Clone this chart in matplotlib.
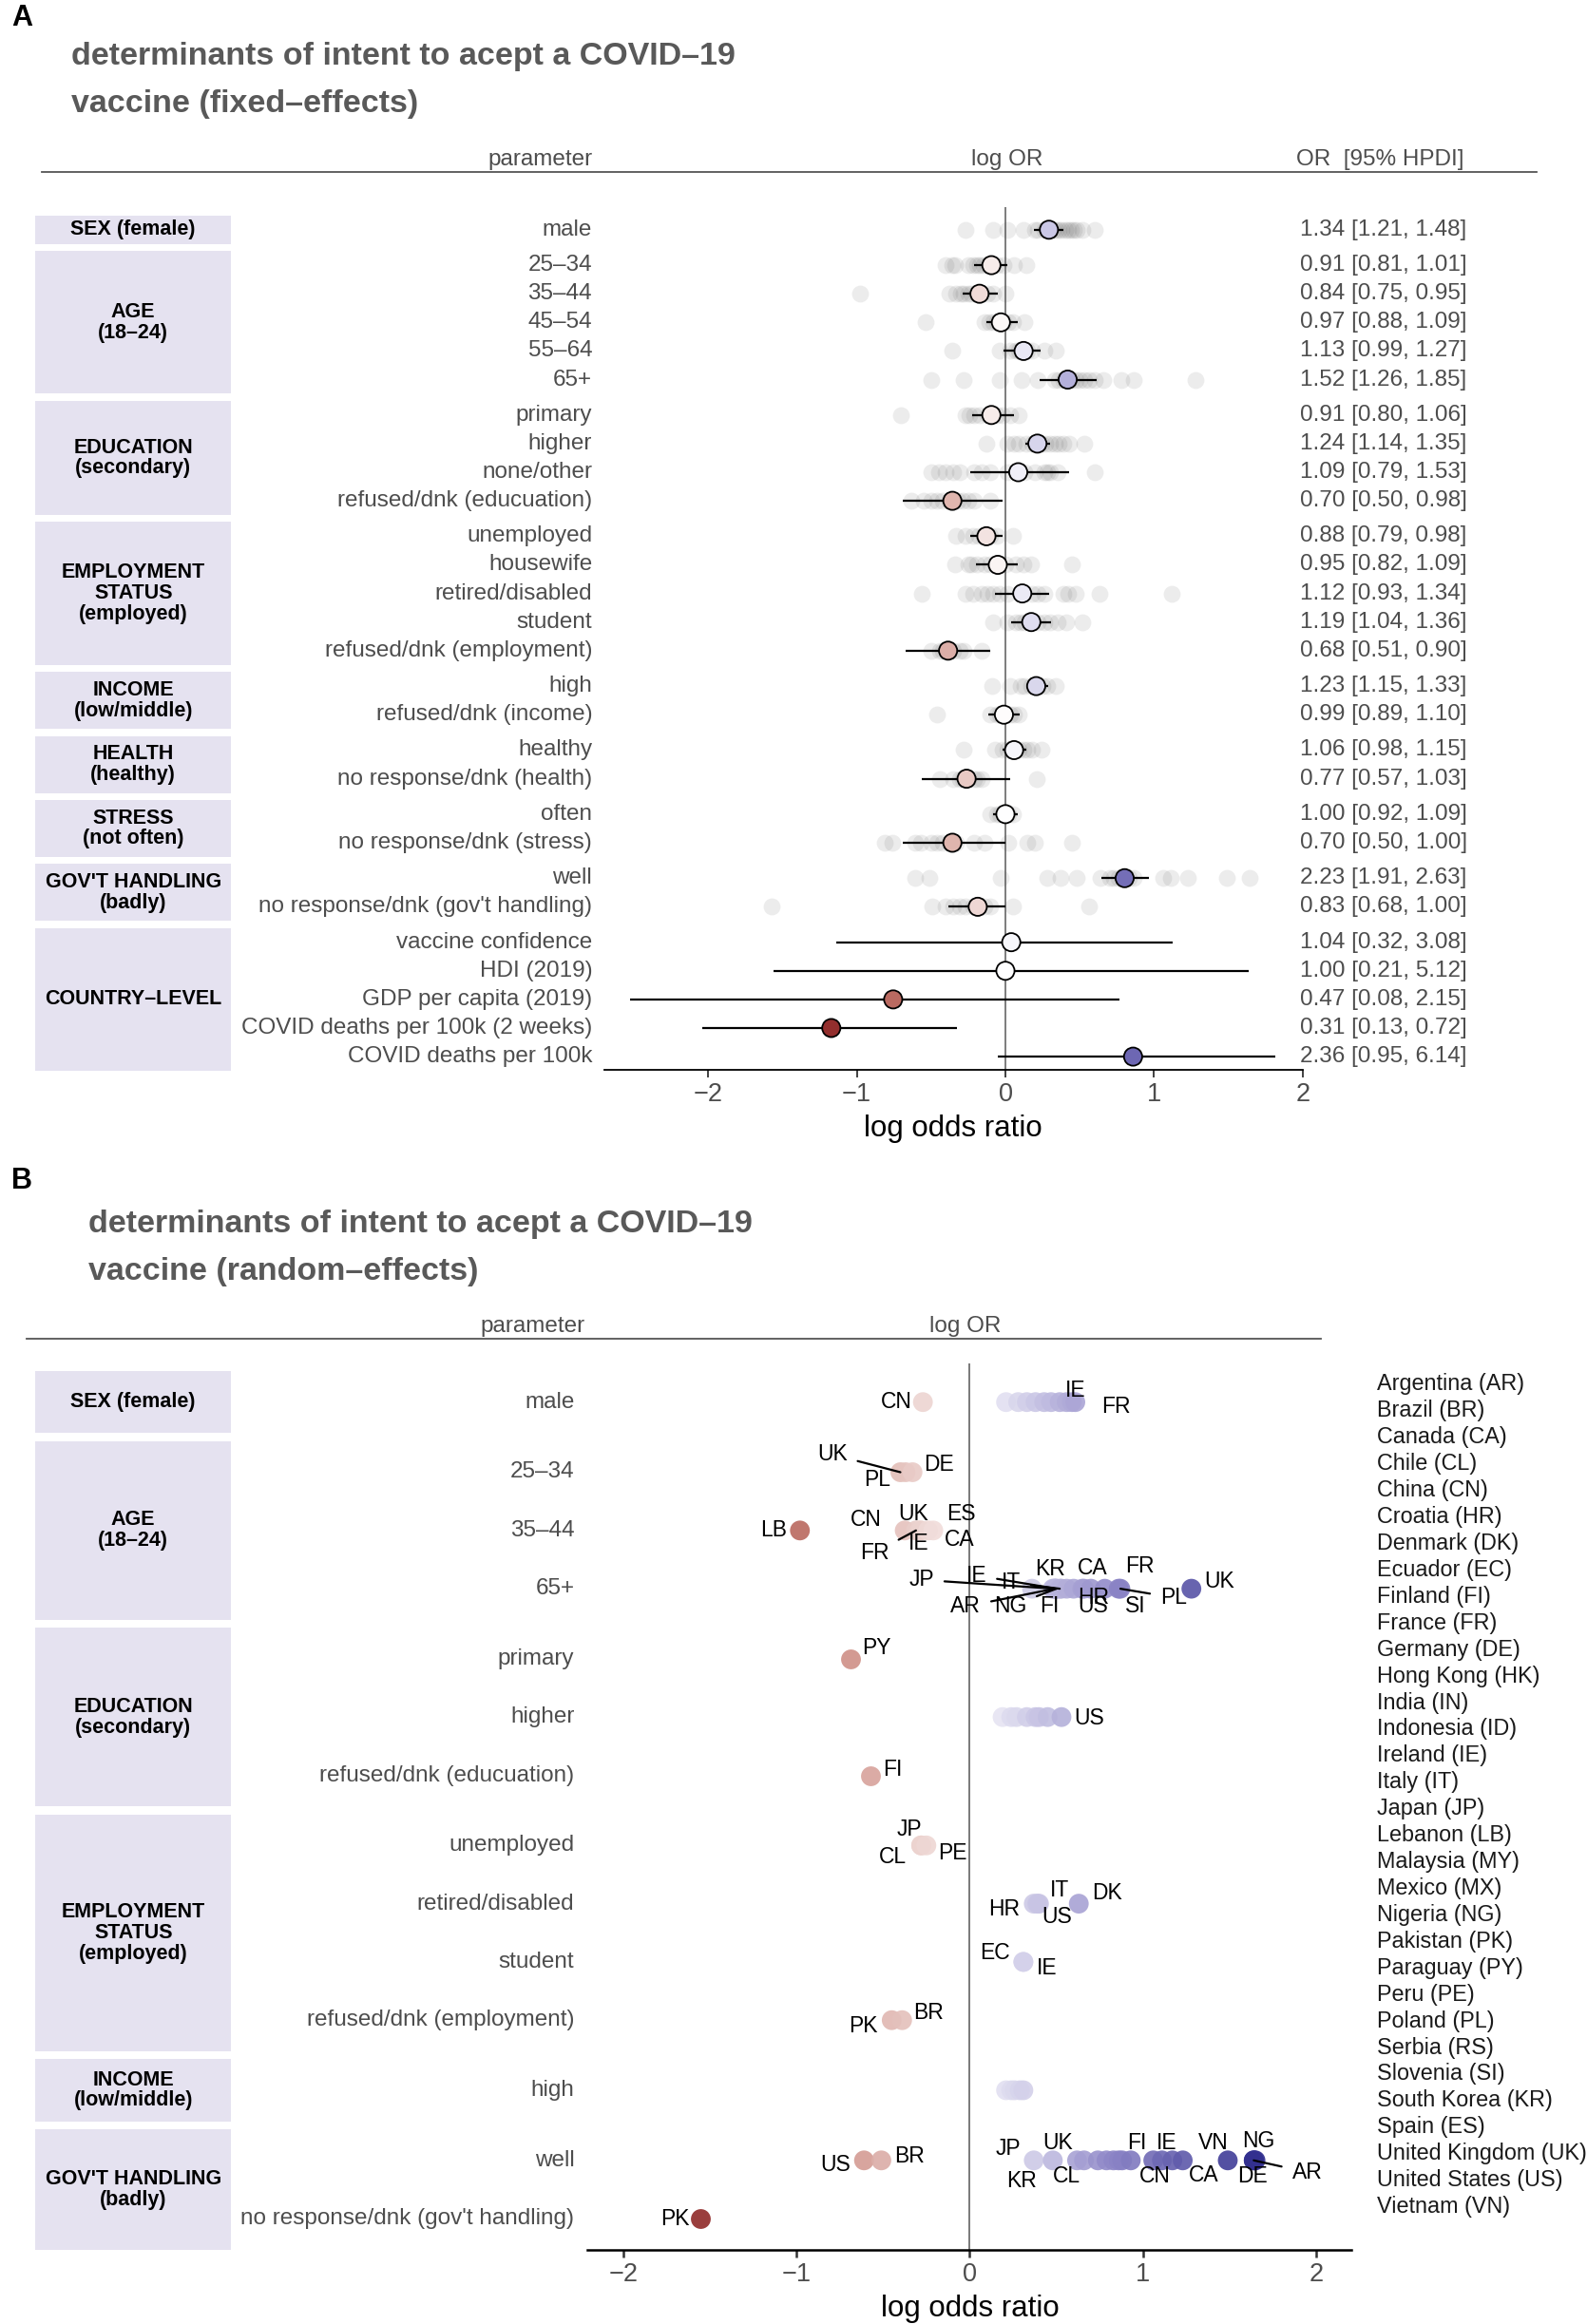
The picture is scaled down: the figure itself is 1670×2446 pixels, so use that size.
"""
Forest plots: determinants of intent to accept a COVID-19 vaccine.
A = fixed effects (with per-country estimates in grey), B = random effects.
"""
import matplotlib
matplotlib.use("Agg")
import matplotlib.pyplot as plt
import matplotlib.transforms as mtransforms
from matplotlib.colors import LinearSegmentedColormap, Normalize
from matplotlib.patches import Rectangle
import numpy as np

plt.rcParams["font.family"] = ["Liberation Sans", "DejaVu Sans"]

# ── Panel A data ─────────────────────────────────────────────────────
A_groups = ["SEX (female)", "AGE\n(18–24)", "EDUCATION\n(secondary)",
            "EMPLOYMENT\nSTATUS\n(employed)", "INCOME\n(low/middle)",
            "HEALTH\n(healthy)", "STRESS\n(not often)",
            "GOV'T HANDLING\n(badly)", "COUNTRY–LEVEL"]
A_group_sizes = [1, 5, 4, 5, 2, 2, 2, 2, 5]
A_params = ["male", "25–34", "35–44", "45–54", "55–64", "65+",
            "primary", "higher", "none/other", "refused/dnk (educuation)",
            "unemployed", "housewife", "retired/disabled", "student",
            "refused/dnk (employment)", "high", "refused/dnk (income)",
            "healthy", "no response/dnk (health)", "often",
            "no response/dnk (stress)", "well", "no response/dnk (gov't handling)",
            "vaccine confidence", "HDI (2019)", "GDP per capita (2019)",
            "COVID deaths per 100k (2 weeks)", "COVID deaths per 100k"]
A_or = [1.34, 0.91, 0.84, 0.97, 1.13, 1.52, 0.91, 1.24, 1.09, 0.70,
        0.88, 0.95, 1.12, 1.19, 0.68, 1.23, 0.99, 1.06, 0.77, 1.00,
        0.70, 2.23, 0.83, 1.04, 1.00, 0.47, 0.31, 2.36]
A_lo = [1.21, 0.81, 0.75, 0.88, 0.99, 1.26, 0.80, 1.14, 0.79, 0.50,
        0.79, 0.82, 0.93, 1.04, 0.51, 1.15, 0.89, 0.98, 0.57, 0.92,
        0.50, 1.91, 0.68, 0.32, 0.21, 0.08, 0.13, 0.95]
A_hi = [1.48, 1.01, 0.95, 1.09, 1.27, 1.85, 1.06, 1.35, 1.53, 0.98,
        0.98, 1.09, 1.34, 1.36, 0.90, 1.33, 1.10, 1.15, 1.03, 1.09,
        1.00, 2.63, 1.00, 3.08, 5.12, 2.15, 0.72, 6.14]

# per-country log OR estimates (grey dots), one list per parameter
A_country = [
    [-0.27, -0.08, 0.01, 0.12, 0.20, 0.22, 0.26, 0.28, 0.30, 0.32, 0.34, 0.36, 0.38, 0.40, 0.42, 0.44, 0.46, 0.48, 0.52, 0.60],
    [-0.40, -0.36, -0.34, -0.25, -0.22, -0.19, -0.17, -0.15, -0.12, -0.10, -0.06, -0.01, 0.06, 0.14],
    [-0.98, -0.38, -0.33, -0.30, -0.28, -0.25, -0.23, -0.20, -0.18, -0.16, -0.12, -0.08, 0.00],
    [-0.54, -0.14, -0.11, -0.08, -0.06, -0.03, -0.01, 0.02, 0.05, 0.13],
    [-0.36, -0.04, 0.03, 0.07, 0.09, 0.12, 0.15, 0.18, 0.26, 0.34],
    [-0.50, -0.28, -0.04, 0.11, 0.22, 0.33, 0.36, 0.39, 0.41, 0.43, 0.45, 0.47, 0.50, 0.53, 0.56, 0.60, 0.66, 0.78, 0.86, 1.28],
    [-0.70, -0.27, -0.24, -0.21, -0.17, -0.12, -0.10, -0.06, -0.02, 0.03, 0.09],
    [-0.13, 0.01, 0.06, 0.09, 0.14, 0.18, 0.21, 0.24, 0.27, 0.30, 0.33, 0.36, 0.39, 0.43, 0.53],
    [-0.50, -0.45, -0.40, -0.35, -0.31, -0.21, -0.16, -0.10, 0.01, 0.13, 0.20, 0.26, 0.28, 0.30, 0.35, 0.60],
    [-0.63, -0.55, -0.50, -0.46, -0.42, -0.38, -0.35, -0.32, -0.29, -0.25, -0.21, -0.10],
    [-0.33, -0.27, -0.22, -0.18, -0.15, -0.12, -0.10, -0.06, 0.05],
    [-0.34, -0.25, -0.23, -0.19, -0.14, -0.10, -0.06, 0.00, 0.07, 0.12, 0.17, 0.45],
    [-0.56, -0.27, -0.22, -0.16, -0.12, -0.08, -0.04, 0.01, 0.10, 0.18, 0.22, 0.26, 0.39, 0.42, 0.47, 0.63, 1.12],
    [-0.08, 0.01, 0.07, 0.10, 0.13, 0.16, 0.18, 0.22, 0.26, 0.30, 0.35, 0.41, 0.52],
    [-0.50, -0.44, -0.42, -0.38, -0.35, -0.31, -0.28, -0.16],
    [-0.09, 0.03, 0.10, 0.13, 0.17, 0.19, 0.22, 0.25, 0.28, 0.34],
    [-0.46, -0.10, -0.06, -0.04, -0.01, 0.03, 0.06, 0.09],
    [-0.28, -0.07, -0.02, 0.01, 0.04, 0.07, 0.09, 0.12, 0.15, 0.18, 0.24],
    [-0.44, -0.35, -0.31, -0.29, -0.25, -0.21, -0.19, -0.16, 0.21],
    [-0.10, -0.06, -0.04, -0.01, 0.02, 0.05],
    [-0.81, -0.76, -0.61, -0.57, -0.50, -0.46, -0.42, -0.38, -0.33, -0.21, -0.14, 0.02, 0.15, 0.20, 0.45],
    [-0.61, -0.51, -0.03, 0.28, 0.37, 0.48, 0.64, 0.70, 0.73, 0.76, 0.80, 0.83, 0.86, 1.06, 1.11, 1.23, 1.49, 1.64],
    [-1.57, -0.49, -0.40, -0.35, -0.31, -0.27, -0.22, -0.18, -0.14, -0.10, 0.05, 0.56],
    [], [], [], [], [],
]

# ── Panel B data ─────────────────────────────────────────────────────
B_groups = ["SEX (female)", "AGE\n(18–24)", "EDUCATION\n(secondary)",
            "EMPLOYMENT\nSTATUS\n(employed)", "INCOME\n(low/middle)",
            "GOV'T HANDLING\n(badly)"]
B_group_sizes = [1, 3, 3, 4, 1, 2]
B_params = ["male", "25–34", "35–44", "65+", "primary", "higher",
            "refused/dnk (educuation)", "unemployed", "retired/disabled",
            "student", "refused/dnk (employment)", "high", "well",
            "no response/dnk (gov't handling)"]
# country-specific log OR (only the ones that stand out get a code)
B_points = [
    [("CN", -0.27), ("", 0.21), ("", 0.28), ("", 0.33), ("", 0.38), ("", 0.43),
     ("", 0.47), ("", 0.52), ("", 0.56), ("FR", 0.59), ("IE", 0.61)],
    [("UK", -0.40), ("PL", -0.37), ("DE", -0.33)],
    [("LB", -0.98), ("CN", -0.375), ("FR", -0.31), ("UK", -0.29), ("IE", -0.28),
     ("ES", -0.24), ("CA", -0.21)],
    [("", 0.36), ("JP", 0.49), ("AR", 0.49), ("FI", 0.48), ("IE", 0.50), ("NG", 0.50),
     ("IT", 0.52), ("", 0.53), ("KR", 0.56), ("", 0.60), ("US", 0.65), ("CA", 0.66),
     ("HR", 0.70), ("SI", 0.78), ("FR", 0.86), ("PL", 0.87), ("UK", 1.28)],
    [("PY", -0.69)],
    [("", 0.19), ("", 0.24), ("", 0.27), ("", 0.33), ("", 0.38), ("", 0.40),
     ("", 0.45), ("US", 0.53)],
    [("FI", -0.575)],
    [("JP", -0.28), ("CL", -0.28), ("PE", -0.25)],
    [("HR", 0.37), ("US", 0.39), ("IT", 0.40), ("DK", 0.63)],
    [("EC", 0.31), ("IE", 0.31)],
    [("PK", -0.45), ("BR", -0.39)],
    [("", 0.21), ("", 0.24), ("", 0.26), ("", 0.29), ("", 0.31)],
    [("US", -0.61), ("BR", -0.51), ("KR", 0.37), ("JP", 0.48), ("UK", 0.62),
     ("CL", 0.66), ("", 0.74), ("", 0.79), ("", 0.83), ("", 0.86), ("", 0.88),
     ("", 0.93), ("FI", 1.06), ("CN", 1.11), ("IE", 1.17), ("CA", 1.23),
     ("VN", 1.49), ("NG", 1.64), ("DE", 1.65), ("AR", 1.64)],
    [("PK", -1.555)],
]
countries = ["Argentina (AR)", "Brazil (BR)", "Canada (CA)", "Chile (CL)",
             "China (CN)", "Croatia (HR)", "Denmark (DK)", "Ecuador (EC)",
             "Finland (FI)", "France (FR)", "Germany (DE)", "Hong Kong (HK)",
             "India (IN)", "Indonesia (ID)", "Ireland (IE)", "Italy (IT)",
             "Japan (JP)", "Lebanon (LB)", "Malaysia (MY)", "Mexico (MX)",
             "Nigeria (NG)", "Pakistan (PK)", "Paraguay (PY)", "Peru (PE)",
             "Poland (PL)", "Serbia (RS)", "Slovenia (SI)", "South Korea (KR)",
             "Spain (ES)", "United Kingdom (UK)", "United States (US)",
             "Vietnam (VN)"]

# label offsets (reference px, +y = down); third item -> draw leader segment
LABEL_POS = {
    (0, "CN"): (-18, 0), (0, "FR"): (30, 3), (0, "IE"): (0, -8),
    (1, "UK"): (-46, -12, True), (1, "PL"): (-19, 5), (1, "DE"): (18, -5),
    (2, "LB"): (-18, 0), (2, "CN"): (-26, -7), (2, "UK"): (-4, -11),
    (2, "ES"): (22, -11), (2, "FR"): (-28, 15, True), (2, "IE"): (-2, 9),
    (2, "CA"): (18, 6),
    (3, "JP"): (-90, -6, True), (3, "IE"): (-54, -9, True), (3, "IT"): (-33, -4, True),
    (3, "AR"): (-60, 12, True), (3, "NG"): (-31, 12, True), (3, "KR"): (-11, -13),
    (3, "FI"): (-2, 12), (3, "CA"): (6, -14), (3, "HR"): (2, 6), (3, "US"): (7, 12),
    (3, "FR"): (14, -15), (3, "SI"): (21, 12), (3, "PL"): (36, 6, True),
    (3, "UK"): (19, -5),
    (4, "PY"): (18, -7),
    (5, "US"): (19, 1),
    (6, "FI"): (15, -4),
    (7, "JP"): (-8, -11), (7, "CL"): (-19, 8), (7, "PE"): (18, 5),
    (8, "HR"): (-20, 4), (8, "IT"): (14, -9), (8, "US"): (13, 9), (8, "DK"): (19, -7),
    (9, "EC"): (-19, -6), (9, "IE"): (16, 4),
    (10, "PK"): (-19, 4), (10, "BR"): (18, -5),
    (12, "US"): (-19, 3), (12, "BR"): (19, -3), (12, "KR"): (-8, 14),
    (12, "JP"): (-30, -8), (12, "UK"): (-13, -12), (12, "CL"): (-12, 11),
    (12, "FI"): (-11, -12), (12, "CN"): (-5, 11), (12, "IE"): (-4, -12),
    (12, "CA"): (14, 10), (12, "VN"): (-10, -12), (12, "NG"): (3, -13),
    (12, "DE"): (-2, 11), (12, "AR"): (36, 8, True),
    (13, "PK"): (-17, 0),
}

# ── Layout helpers (reference grid is 1072 x 1568) ────────────────────
GW, GH = 1072, 1568
PX2PT = (1670 / GW) * 72 / 100


def fx(x):
    return x / GW


def fy(y):
    return 1 - y / GH


GREY_TXT = "#4d4d4d"
BOX = "#e5e2f0"
cmap = LinearSegmentedColormap.from_list(
    "rdpu", ["#8b2323", "#c77d72", "#ffffff", "#8f88c8", "#33308f"])


def row_positions(sizes, y0, step, gap):
    ys = []
    i = 0
    for g, n in enumerate(sizes):
        for _ in range(n):
            ys.append(y0 + i * step + g * gap)
            i += 1
    return np.array(ys)


def add_panel_frame(fig, ax, ys, sizes, groups, params, half, label_x,
                    title_lines, letter, letter_y, title_x, title_ys, header_y,
                    header_x1, header_cols):
    trans = mtransforms.blended_transform_factory(fig.transFigure, ax.transData)
    start = 0
    for n, name in zip(sizes, groups):
        y_top = ys[start] - half
        y_bot = ys[start + n - 1] + half
        ax.add_patch(Rectangle((fx(24), y_top), fx(156) - fx(24), y_bot - y_top,
                               transform=trans, facecolor=BOX, edgecolor="none",
                               clip_on=False, zorder=0))
        ax.text(fx(90), (y_top + y_bot) / 2, name, transform=trans,
                ha="center", va="center", fontsize=15.5, fontweight="bold",
                linespacing=1.05)
        start += n
    for y, p in zip(ys, params):
        ax.text(fx(label_x), y, p, transform=trans, ha="right", va="center",
                fontsize=17.5, color=GREY_TXT)

    fig.text(fx(8), fy(letter_y), letter, fontsize=22, fontweight="bold",
             va="center")
    for line, ty in zip(title_lines, title_ys):
        fig.text(fx(title_x), fy(ty), line, fontsize=24.5, fontweight="bold",
                 color="#595959", va="center")
    fig.add_artist(plt.Line2D([fx(header_x1[0]), fx(header_x1[1])],
                              [fy(header_y), fy(header_y)],
                              color="#555555", lw=1.3))
    for x, txt in header_cols:
        fig.text(fx(x), fy(header_y - 8), txt, ha="center", va="center",
                 fontsize=17.5, color=GREY_TXT)


def style_axis(ax, lw):
    for s in ["top", "right", "left"]:
        ax.spines[s].set_visible(False)
    ax.spines["bottom"].set_linewidth(lw)
    ax.spines["bottom"].set_color("black")
    ax.set_yticks([])
    ax.set_xticks([-2, -1, 0, 1, 2])
    ax.tick_params(axis="x", labelsize=19.5, labelcolor=GREY_TXT, length=6,
                   width=lw, color="#333333", pad=3)
    ax.set_xlabel("log odds ratio", fontsize=22.5, labelpad=6)
    ax.patch.set_alpha(0)


fig = plt.figure(figsize=(16.7, 24.46), dpi=100)

# ── Panel A ──────────────────────────────────────────────────────────
axA = fig.add_axes([fx(408), fy(722), fx(880) - fx(408), (722 - 140) / GH])
yA = row_positions(A_group_sizes, 155, 19.3, 4.6)
axA.set_xlim(-2.70, 2.0)
axA.set_ylim(722, 140)
axA.axvline(0, color="#666666", lw=1.2, zorder=1)

for y, vals in zip(yA, A_country):
    if vals:
        axA.scatter(vals, np.full(len(vals), y), s=165, color="#555555",
                    alpha=0.11, linewidths=0, zorder=2)

est = np.log(A_or)
lo = np.log(A_lo)
hi = np.log(A_hi)
normA = Normalize(-1.25, 1.25)
axA.hlines(yA, lo, hi, color="black", lw=1.6, zorder=3)
axA.scatter(est, yA, s=190, c=cmap(normA(est)), edgecolors="black",
            linewidths=1.3, zorder=4)

transA = mtransforms.blended_transform_factory(fig.transFigure, axA.transData)
for y, o, l, h in zip(yA, A_or, A_lo, A_hi):
    axA.text(fx(878), y, f"{o:.2f} [{l:.2f}, {h:.2f}]", transform=transA,
             ha="left", va="center", fontsize=17.5, color=GREY_TXT)

style_axis(axA, 1.3)
add_panel_frame(fig, axA, yA, A_group_sizes, A_groups, A_params, 9.6, 400,
                ["determinants of intent to acept a COVID–19",
                 "vaccine (fixed–effects)"],
                "A", 12, 48, (38, 70), 116, (28, 1038),
                [(365, "parameter"), (680, "log OR"), (932, "OR  [95% HPDI]")])

# ── Panel B ──────────────────────────────────────────────────────────
axB = fig.add_axes([fx(397), fy(1518), fx(913) - fx(397), (1518 - 920) / GH])
yB = row_positions(B_group_sizes, 946, 39.3, 8)
axB.set_xlim(-2.205, 2.205)
axB.set_ylim(1518, 920)
axB.axvline(0, color="#555555", lw=1.1, zorder=1)

normB = Normalize(-1.65, 1.65)
for r, (y, pts) in enumerate(zip(yB, B_points)):
    vals = np.array([v for _, v in pts])
    axB.scatter(vals, np.full(len(vals), y), s=225, c=cmap(normB(vals)),
                linewidths=0, alpha=0.92, zorder=3)
    for code, v in pts:
        if not code:
            continue
        pos = LABEL_POS.get((r, code), (0, -12))
        dx, dy = pos[0] * PX2PT, -pos[1] * PX2PT
        arrow = None
        if len(pos) > 2:
            arrow = dict(arrowstyle="-", color="black", lw=1.6,
                         shrinkA=6, shrinkB=0)
        axB.annotate(code, xy=(v, y), xytext=(dx, dy),
                     textcoords="offset points", ha="center", va="center",
                     fontsize=16.5, color="black", arrowprops=arrow, zorder=5)

style_axis(axB, 1.8)
add_panel_frame(fig, axB, yB, B_group_sizes, B_groups, B_params, 21, 388,
                ["determinants of intent to acept a COVID–19",
                 "vaccine (random–effects)"],
                "B", 797, 60, (826, 858), 903, (18, 892),
                [(360, "parameter"), (652, "log OR")])

for i, c in enumerate(countries):
    fig.text(fx(930), fy(934 + i * 17.9), c, ha="left", va="center",
             fontsize=16.8, color="#1a1a1a")

fig.savefig("out.png", dpi=100)
plt.close(fig)
